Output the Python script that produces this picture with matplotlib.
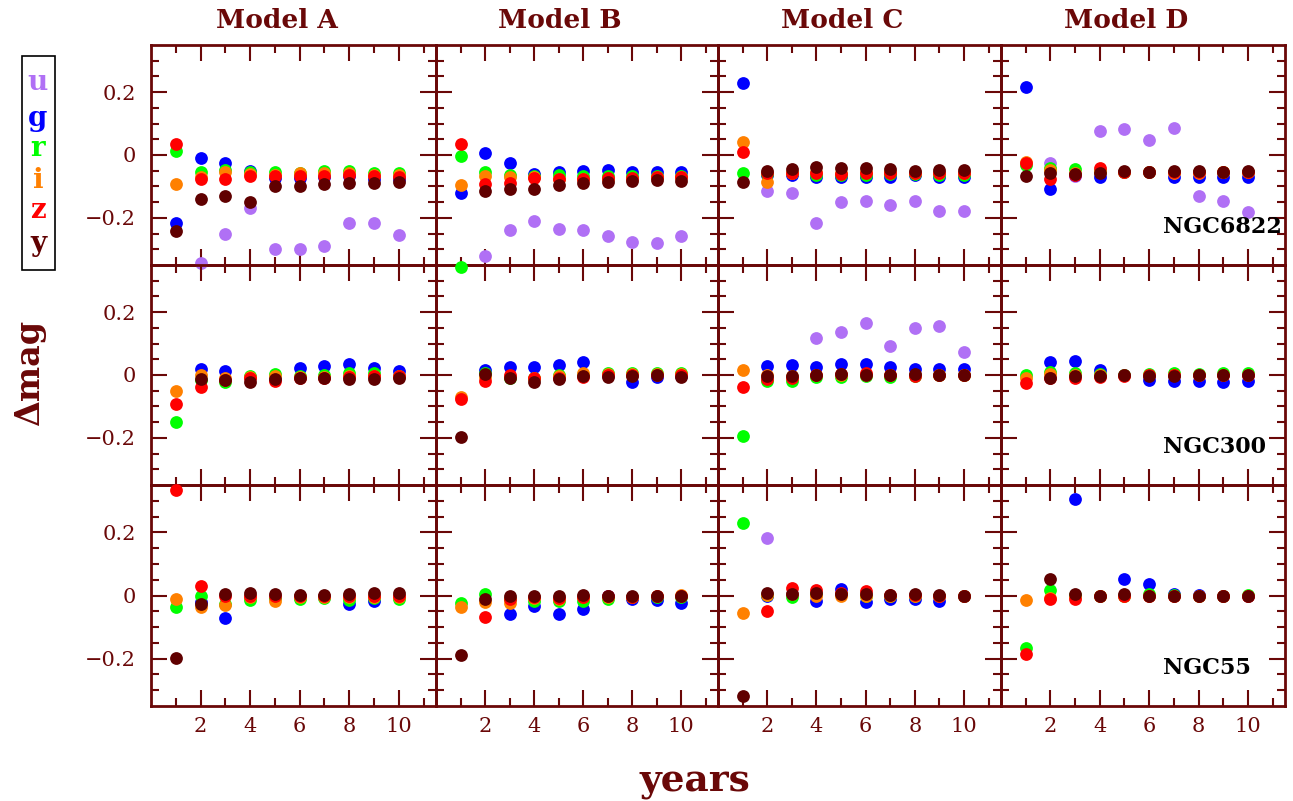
import numpy as np
import matplotlib
matplotlib.use("Agg")
import matplotlib.pyplot as plt
from matplotlib.patches import Rectangle

nan = np.nan
years = [1, 2, 3, 4, 5, 6, 7, 8, 9, 10]
bands = ["u", "g", "r", "i", "z", "y"]
band_colors = ["#b070f5", "#0000ff", "#00ff00", "#ff8000", "#ff0000", "#600000"]
models = ["Model A", "Model B", "Model C", "Model D"]
galaxies = ["NGC6822", "NGC300", "NGC55"]

# each panel: rows = bands u,g,r,i,z,y ; columns = years 1..10
ngc6822_A = [
    [nan, -0.343, -0.252, -0.169, -0.299, -0.299, -0.291, -0.215, -0.217, -0.254],
    [-0.217, -0.010, -0.026, -0.050, -0.074, -0.074, -0.069, -0.068, -0.077, -0.077],
    [0.014, -0.053, -0.048, -0.055, -0.055, -0.058, -0.050, -0.050, -0.056, -0.056],
    [-0.092, -0.070, -0.053, -0.061, -0.063, -0.058, -0.058, -0.058, -0.063, -0.063],
    [0.035, -0.077, -0.077, -0.067, -0.067, -0.066, -0.067, -0.063, -0.067, -0.069],
    [-0.241, -0.139, -0.132, -0.150, -0.100, -0.098, -0.093, -0.088, -0.088, -0.085],
]
ngc6822_B = [
    [nan, -0.321, -0.238, -0.211, -0.236, -0.238, -0.257, -0.276, -0.279, -0.257],
    [-0.122, 0.005, -0.026, -0.061, -0.053, -0.051, -0.048, -0.053, -0.053, -0.053],
    [-0.002, -0.053, -0.063, -0.066, -0.063, -0.067, -0.068, -0.068, -0.068, -0.068],
    [-0.095, -0.067, -0.069, -0.069, -0.077, -0.077, -0.077, -0.075, -0.071, -0.071],
    [0.035, -0.093, -0.088, -0.072, -0.077, -0.077, -0.074, -0.072, -0.069, -0.069],
    [nan, -0.114, -0.108, -0.108, -0.095, -0.088, -0.087, -0.083, -0.079, -0.083],
]
ngc6822_C = [
    [nan, -0.114, -0.122, -0.215, -0.151, -0.147, -0.158, -0.146, -0.177, -0.177],
    [0.228, -0.063, -0.063, -0.069, -0.069, -0.069, -0.069, -0.063, -0.069, -0.071],
    [-0.057, -0.060, -0.058, -0.063, -0.063, -0.063, -0.060, -0.060, -0.063, -0.063],
    [0.042, -0.085, -0.056, -0.053, -0.056, -0.053, -0.053, -0.056, -0.056, -0.056],
    [0.010, -0.058, -0.058, -0.058, -0.060, -0.058, -0.058, -0.058, -0.058, -0.058],
    [-0.085, -0.050, -0.046, -0.039, -0.042, -0.042, -0.044, -0.050, -0.048, -0.048],
]
ngc6822_D = [
    [nan, -0.024, -0.067, 0.076, 0.083, 0.048, 0.085, -0.131, -0.145, -0.180],
    [0.217, -0.108, -0.063, -0.069, -0.053, -0.053, -0.069, -0.069, -0.071, -0.071],
    [-0.032, -0.042, -0.046, -0.050, -0.053, -0.053, -0.055, -0.055, -0.055, -0.055],
    [-0.021, -0.048, -0.058, -0.053, -0.053, -0.053, -0.058, -0.058, -0.055, -0.055],
    [-0.026, -0.077, -0.063, -0.040, -0.053, -0.053, -0.055, -0.055, -0.053, -0.053],
    [-0.067, -0.058, -0.061, -0.056, -0.051, -0.053, -0.051, -0.051, -0.053, -0.051],
]
ngc300_A = [
    [nan] * 10,
    [nan, 0.020, 0.014, -0.005, -0.010, 0.023, 0.030, 0.034, 0.023, 0.014],
    [-0.151, -0.016, -0.021, -0.003, 0.002, -0.003, 0.000, 0.005, 0.005, -0.003],
    [-0.051, 0.000, -0.011, -0.005, -0.003, -0.005, -0.005, -0.003, -0.003, -0.003],
    [-0.092, -0.037, -0.016, -0.011, -0.019, -0.011, -0.008, -0.005, -0.002, -0.002],
    [nan, -0.013, -0.016, -0.023, -0.013, -0.011, -0.011, -0.013, -0.013, -0.010],
]
ngc300_B = [
    [nan] * 10,
    [nan, 0.016, 0.026, 0.026, 0.033, 0.041, -0.001, -0.023, -0.007, -0.002],
    [0.344, 0.005, -0.008, -0.011, 0.000, 0.000, 0.005, 0.005, 0.005, 0.005],
    [-0.069, -0.005, -0.005, -0.011, -0.003, 0.005, 0.002, 0.003, 0.003, 0.003],
    [-0.077, -0.018, 0.000, -0.011, -0.011, -0.005, 0.000, 0.000, 0.000, 0.000],
    [-0.197, 0.002, -0.011, -0.023, -0.013, -0.003, -0.005, -0.003, -0.001, -0.005],
]
ngc300_C = [
    [nan, nan, nan, 0.117, 0.137, 0.164, 0.092, 0.149, 0.156, 0.073],
    [nan, 0.030, 0.032, 0.026, 0.034, 0.034, 0.026, 0.019, 0.019, 0.019],
    [-0.194, -0.018, -0.020, -0.007, -0.007, -0.003, -0.005, -0.002, 0.000, 0.000],
    [0.017, 0.000, -0.003, 0.000, 0.000, 0.000, 0.000, 0.000, 0.000, 0.000],
    [-0.037, -0.013, -0.010, 0.000, 0.002, 0.005, 0.000, -0.002, 0.000, 0.000],
    [nan, -0.002, -0.002, 0.000, 0.002, 0.000, 0.000, 0.002, 0.000, 0.000],
]
ngc300_D = [
    [nan] * 10,
    [nan, 0.042, 0.046, 0.016, 0.000, -0.016, -0.018, -0.019, -0.023, -0.018],
    [0.000, 0.008, 0.005, 0.002, 0.000, 0.002, 0.005, 0.003, 0.007, 0.005],
    [-0.011, 0.002, 0.000, 0.000, 0.000, 0.000, 0.000, 0.000, 0.000, 0.000],
    [-0.026, -0.008, -0.011, -0.005, -0.002, 0.000, 0.000, 0.000, 0.000, 0.000],
    [nan, -0.011, -0.003, -0.002, 0.000, -0.002, -0.003, 0.000, 0.000, 0.000],
]
ngc55_A = [
    [nan] * 10,
    [nan, -0.020, -0.070, -0.005, -0.005, -0.005, -0.005, -0.026, -0.016, -0.005],
    [-0.035, -0.003, -0.026, -0.013, -0.008, -0.010, -0.007, -0.015, -0.008, -0.010],
    [-0.011, -0.037, -0.030, -0.005, -0.016, -0.005, -0.005, -0.005, -0.005, -0.005],
    [0.333, 0.029, -0.003, 0.000, -0.003, -0.003, -0.003, -0.003, -0.002, 0.000],
    [-0.198, -0.026, 0.005, 0.007, 0.005, 0.002, 0.002, 0.005, 0.007, 0.007],
]
ngc55_B = [
    [nan] * 10,
    [nan, nan, -0.060, -0.032, -0.060, -0.043, -0.003, -0.010, -0.013, -0.025],
    [-0.024, 0.005, -0.010, -0.018, -0.018, -0.018, -0.010, -0.005, -0.005, -0.005],
    [-0.037, -0.021, -0.024, -0.008, -0.010, -0.005, -0.005, -0.005, -0.003, 0.002],
    [nan, -0.069, -0.011, -0.005, -0.008, -0.005, -0.003, -0.005, -0.003, -0.003],
    [-0.187, -0.011, -0.002, 0.000, 0.000, 0.003, -0.003, 0.000, 0.000, -0.002],
]
ngc55_C = [
    [nan, 0.181, nan, nan, nan, nan, nan, nan, nan, nan],
    [nan, 0.000, 0.005, -0.018, 0.021, -0.021, -0.010, -0.010, -0.016, -0.002],
    [0.231, 0.003, -0.005, 0.005, 0.005, 0.000, 0.000, 0.000, 0.000, 0.000],
    [-0.056, 0.002, 0.005, 0.000, 0.000, -0.002, -0.003, -0.003, -0.003, 0.000],
    [nan, -0.050, 0.023, 0.019, 0.008, 0.014, 0.002, 0.002, 0.000, 0.000],
    [-0.317, 0.008, 0.005, 0.007, 0.005, 0.005, 0.002, 0.005, 0.002, 0.000],
]
ngc55_D = [
    [nan] * 10,
    [nan, nan, 0.305, nan, 0.053, 0.037, 0.005, 0.002, 0.000, 0.000],
    [-0.167, 0.016, 0.002, 0.000, 0.000, 0.005, 0.003, 0.000, 0.000, 0.002],
    [-0.013, -0.008, -0.005, -0.002, 0.000, 0.000, 0.000, 0.000, 0.000, 0.000],
    [-0.185, -0.011, -0.011, -0.002, -0.003, -0.002, -0.002, -0.002, -0.002, -0.002],
    [nan, 0.053, 0.005, -0.002, 0.005, -0.003, -0.003, -0.002, -0.002, -0.002],
]

panels = [
    [ngc6822_A, ngc6822_B, ngc6822_C, ngc6822_D],
    [ngc300_A, ngc300_B, ngc300_C, ngc300_D],
    [ngc55_A, ngc55_B, ngc55_C, ngc55_D],
]

DARK = "#6a0808"
SERIF = "DejaVu Serif"

W, H = 1293, 801
fig = plt.figure(figsize=(W / 100, H / 100), dpi=100)

x_edges = [151, 436, 718, 1001, 1285]
y_edges = [45, 265, 485, 706]

axes = []
for r in range(3):
    for c in range(4):
        l = x_edges[c] / W
        w = (x_edges[c + 1] - x_edges[c]) / W
        b = 1 - y_edges[r + 1] / H
        h = (y_edges[r + 1] - y_edges[r]) / H
        ax = fig.add_axes([l, b, w, h])
        ax.set_facecolor("none")
        data = panels[r][c]
        for k in range(6):
            ax.plot(years, data[k], "o", color=band_colors[k], ms=9.2,
                    mec="none", clip_on=False, zorder=3 + k)
        ax.set_xlim(0, 11.5)
        ax.set_ylim(-0.35, 0.35)
        ax.set_xticks([2, 4, 6, 8, 10])
        ax.set_xticks([1, 3, 5, 7, 9, 11], minor=True)
        ax.set_yticks([-0.2, 0, 0.2])
        ax.set_yticks(np.arange(-0.3, 0.31, 0.05), minor=True)
        ax.tick_params(which="both", direction="in", top=True, right=True,
                       color=DARK, width=1.5, labelcolor=DARK,
                       labelsize=15)
        ax.tick_params(which="major", length=11.5)
        ax.tick_params(which="minor", length=5.8)
        ax.tick_params(axis="y", which="major", pad=11)
        ax.tick_params(axis="x", which="major", pad=8)
        for lab in ax.get_xticklabels() + ax.get_yticklabels():
            lab.set_family(SERIF)
        ax.set_yticklabels(["\u22120.2", "0", "0.2"])
        for s in ax.spines.values():
            s.set_color(DARK)
            s.set_linewidth(2)
        if r < 2:
            ax.tick_params(labelbottom=False)
        if c > 0:
            ax.tick_params(labelleft=False)
        if c == 3:
            ax.text(0.57, 0.174, galaxies[r], transform=ax.transAxes,
                    ha="left", va="center", fontsize=16, fontweight="bold",
                    family=SERIF, color="black")
        axes.append(ax)
        if r == 0:
            cx = (x_edges[c] + x_edges[c + 1]) / 2 - 17
            fig.text(cx / W, 1 - 21 / H, models[c], ha="center", va="center",
                     fontsize=19, fontweight="bold", family=SERIF, color=DARK)

# legend box
fig.patches.append(Rectangle((22 / W, 1 - 270 / H), 33 / W, 214 / H,
                             transform=fig.transFigure, fill=False,
                             edgecolor="black", linewidth=1.2))
leg_y = [82, 118, 149, 180, 211, 243]
for k in range(6):
    fig.text(38 / W, 1 - leg_y[k] / H, bands[k], ha="center", va="center",
             fontsize=20, fontweight="bold", family=SERIF, color=band_colors[k])

fig.text(30 / W, 1 - 373 / H, "\u0394mag", rotation=90, ha="center",
         va="center", fontsize=24, fontweight="bold", family=SERIF, color=DARK)
fig.text(695 / W, 1 - 782 / H, "years", ha="center", va="center",
         fontsize=27, fontweight="bold", family=SERIF, color=DARK)

fig.savefig("out.png", dpi=100)
